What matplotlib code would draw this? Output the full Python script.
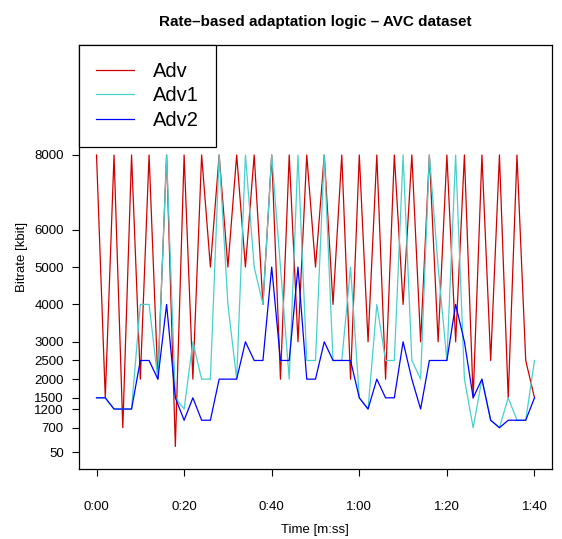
import matplotlib
matplotlib.use('Agg')
import matplotlib.pyplot as plt
import numpy as np

plt.rcParams['font.family'] = ['Liberation Sans', 'DejaVu Sans']

# time in seconds, one sample every 2 s
seconds = list(range(0, 101, 2))

adv = [8000, 1500, 8000, 700, 8000, 2000, 8000, 2000, 8000, 200,
       8000, 2000, 8000, 5000, 8000, 5000, 8000, 5000, 8000, 4000,
       8000, 2000, 8000, 3000, 8000, 5000, 8000, 4000, 8000, 2000,
       8000, 3000, 8000, 2000, 8000, 4000, 8000, 3000, 8000, 3000,
       8000, 3000, 8000, 1500, 8000, 2500, 8000, 1500, 8000, 2500,
       1500]
adv1 = [1500, 1500, 1200, 1200, 1200, 4000, 4000, 2000, 8000, 1500,
        1200, 3000, 2000, 2000, 8000, 4000, 2000, 8000, 5000, 4000,
        8000, 5000, 2000, 8000, 2500, 2500, 8000, 2500, 2500, 5000,
        1500, 1200, 4000, 2500, 2500, 8000, 2500, 2000, 8000, 5000,
        2500, 8000, 2000, 700, 2000, 900, 700, 1500, 900, 900,
        2500]
adv2 = [1500, 1500, 1200, 1200, 1200, 2500, 2500, 2000, 4000, 1500,
        900, 1500, 900, 900, 2000, 2000, 2000, 3000, 2500, 2500,
        5000, 2500, 2500, 5000, 2000, 2000, 3000, 2500, 2500, 2500,
        1500, 1200, 2000, 1500, 1500, 3000, 2000, 1200, 2500, 2500,
        2500, 4000, 3000, 1500, 2000, 900, 700, 900, 900, 900,
        1500]

ytick_vals = [50, 700, 1200, 1500, 2000, 2500, 3000, 4000, 5000, 6000, 8000]
xtick_vals = [0, 20, 40, 60, 80, 100]
xtick_labels = ['0:00', '0:20', '0:40', '1:00', '1:20', '1:40']

W, H = 562, 539
fig = plt.figure(figsize=(W / 100, H / 100), dpi=100)
ax = fig.add_axes([79 / W, (H - 469) / H, 473 / W, 424 / H])

ax.plot(seconds, adv, color='#D00000', lw=0.9, label='Adv')
ax.plot(seconds, adv1, color='#48D1CC', lw=0.9, label='Adv1')
ax.plot(seconds, adv2, color='#0000FF', lw=0.9, label='Adv2')

ax.set_xlim(-4, 104)
ax.set_ylim(-405, 10944)
ax.set_xticks(xtick_vals)
ax.set_xticklabels(xtick_labels)
ax.set_yticks(ytick_vals)
ax.set_yticklabels([str(v) for v in ytick_vals])
ax.tick_params(axis='both', direction='out', length=5, width=0.8, labelsize=9.5)
ax.tick_params(axis='x', pad=18)
ax.tick_params(axis='y', pad=6)
for s in ax.spines.values():
    s.set_linewidth(0.9)

ax.set_xlabel('Time [m:ss]', fontsize=9.5)
ax.xaxis.set_label_coords((315 - 79) / 473, -0.144)
ax.xaxis.label.set_va('center')
ax.set_ylabel('Bitrate [kbit]', fontsize=9.5)
ax.yaxis.set_label_coords(-0.1205, 0.5)
ax.yaxis.label.set_va('center')

ax.set_title('Rate\u2013based adaptation logic \u2013 AVC dataset',
             fontsize=11, fontweight='bold', y=1.0, pad=14)

leg = ax.legend(loc='upper left', borderaxespad=0, fancybox=False,
                edgecolor='black', framealpha=1, fontsize=14.5,
                handlelength=1.9, handletextpad=0.95, labelspacing=0.28,
                borderpad=0.83)
leg.get_frame().set_linewidth(0.9)

fig.savefig('out.png', dpi=100)
